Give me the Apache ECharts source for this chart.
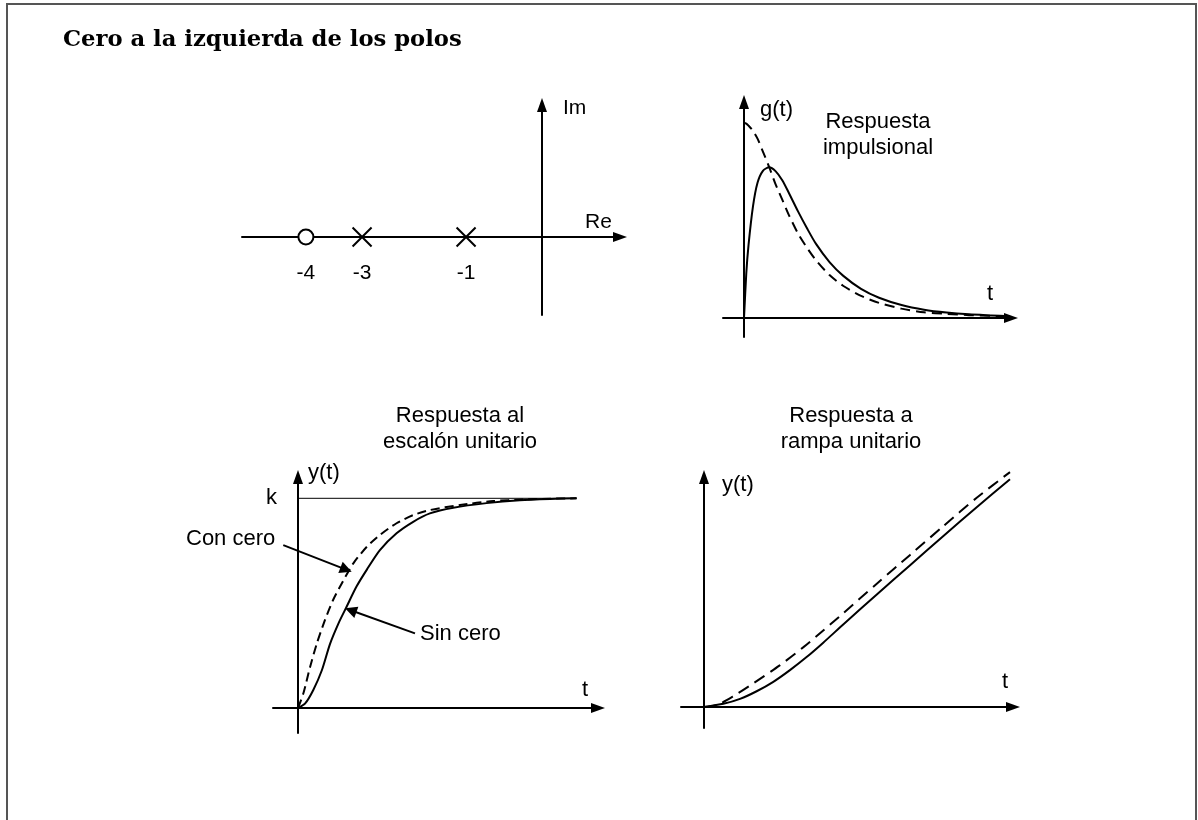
<!DOCTYPE html>
<html>
<head>
    <meta charset="UTF-8">
    <title>Cero a la izquierda de los polos</title>
    <script src="https://cdn.jsdelivr.net/npm/echarts@6/dist/echarts.min.js"></script>
    <style>
        html, body { margin: 0; padding: 0; background: #fff; }
        #chart { width: 1198px; height: 820px; }
    </style>
</head>
<body>
<div id="chart"></div>
<script>
    // plano s (posiciones del dibujo, no a escala) y sus etiquetas
    var zeroRe = [-4.54];
    var zeroLabels = ['-4'];
    var poleRe = [-3.46, -1.46];
    var poleLabels = ['-3', '-1'];

    // respuesta impulsional
    var impT = [0, 0.05, 0.1, 0.2, 0.3, 0.42, 0.56, 0.7, 0.85, 1.0, 1.2, 1.4, 1.6, 1.9, 2.2, 2.6, 3.0, 3.5, 4.0, 4.5, 5.0, 5.5, 5.9];
    var impSinCero = [0, 0.17, 0.28, 0.43, 0.52, 0.566, 0.58, 0.565, 0.53, 0.48, 0.41, 0.345, 0.285, 0.215, 0.163, 0.112, 0.078, 0.05, 0.032, 0.021, 0.014, 0.01, 0.007];
    var impConCero = [0.75, 0.748, 0.74, 0.72, 0.69, 0.64, 0.58, 0.515, 0.455, 0.395, 0.325, 0.27, 0.222, 0.165, 0.124, 0.085, 0.058, 0.036, 0.022, 0.016, 0.011, 0.008, 0.006];

    // respuesta al escalon
    var stepT = [0, 0.16, 0.34, 0.53, 0.71, 0.9, 1.08, 1.3, 1.53, 1.82, 2.19, 2.56, 2.93, 3.45, 4.19, 4.93, 5.6, 6.19];
    var stepSinCero = [0, 0.022, 0.086, 0.18, 0.305, 0.404, 0.483, 0.579, 0.66, 0.753, 0.833, 0.888, 0.928, 0.955, 0.977, 0.991, 0.997, 1.0];
    var stepTz = [0, 0.12, 0.27, 0.42, 0.6, 0.78, 1.0, 1.23, 1.53, 1.82, 2.19, 2.56, 2.93, 3.6, 4.34, 5.0, 5.6, 6.19];
    var stepConCero = [0, 0.07, 0.197, 0.309, 0.42, 0.515, 0.605, 0.69, 0.769, 0.825, 0.881, 0.92, 0.944, 0.968, 0.987, 0.994, 0.998, 1.0];
    var kT = [0, 6.19];
    var kY = [1, 1];

    // respuesta a rampa
    var rampT = [0, 0.43, 0.8, 1.17, 1.54, 1.91, 2.28, 2.65, 3.1, 3.84, 4.58, 5.32, 6.06, 6.8];
    var rampSinCero = [0, 0.07, 0.18, 0.35, 0.56, 0.82, 1.11, 1.43, 1.84, 2.5, 3.15, 3.8, 4.44, 5.06];
    var rampTz = [0, 0.3, 0.65, 1.1, 1.69, 2.21, 2.65, 3.1, 3.84, 4.58, 5.32, 6.06, 6.8];
    var rampConCero = [0, 0.05, 0.24, 0.53, 0.93, 1.33, 1.7, 2.09, 2.74, 3.38, 4.02, 4.65, 5.22];

    function pairs(xs, ys) {
        return xs.map(function (x, i) { return [x, ys[i]]; });
    }

    function axis(grid, min, max) {
        return {
            type: 'value', gridIndex: grid, min: min, max: max,
            axisLine: {
                onZero: true,
                symbol: ['none', 'triangle'],
                symbolSize: [10, 14],
                lineStyle: { color: '#000', width: 2 }
            },
            axisTick: { show: false },
            axisLabel: { show: false },
            splitLine: { show: false }
        };
    }

    function curve(grid, data, dashed) {
        return {
            type: 'line', xAxisIndex: grid, yAxisIndex: grid,
            data: data, symbol: 'none', smooth: 0.25, clip: false,
            lineStyle: { color: '#000', width: 2, type: dashed || 'solid' },
            silent: true
        };
    }

    var sans = '"Liberation Sans", Arial, sans-serif';
    function txt(x, y, s, size, align) {
        return {
            type: 'text', x: x, y: y, silent: true,
            style: {
                text: s, fill: '#000',
                font: (size || 22) + 'px ' + sans,
                align: align || 'left', verticalAlign: 'middle',
                textAlign: align || 'left', textVerticalAlign: 'middle'
            }
        };
    }

    var labelStyle = {
        show: true, position: 'inside', offset: [0, 36], formatter: '{b}',
        color: '#000', opacity: 1, fontSize: 21, fontFamily: sans
    };

    var chart = echarts.init(document.getElementById('chart'), null, { renderer: 'canvas' });

    var option = {
        animation: false,
        backgroundColor: '#fff',
        grid: [
            { left: 242, top: 105, width: 378, height: 210 },
            { left: 723, top: 102, width: 288, height: 235 },
            { left: 273, top: 477, width: 325, height: 256 },
            { left: 681, top: 477, width: 332, height: 251 }
        ],
        xAxis: [
            axis(0, -5.769, 1.5),
            axis(1, -0.467, 5.933),
            axis(2, -0.5556, 6.6667),
            axis(3, -0.5111, 6.8667)
        ],
        yAxis: [
            axis(0, -1.5, 2.538),
            axis(1, -0.0731, 0.8308),
            axis(2, -0.1192, 1.1016),
            axis(3, -0.4667, 5.1111)
        ],
        series: [
            {
                type: 'scatter', xAxisIndex: 0, yAxisIndex: 0,
                symbol: 'emptyCircle', symbolSize: 15,
                itemStyle: { color: '#000', borderColor: '#000', borderWidth: 2, opacity: 1 },
                label: labelStyle,
                data: zeroRe.map(function (v, i) { return { name: zeroLabels[i], value: [v, 0] }; }),
                z: 5, silent: true
            },
            {
                type: 'scatter', xAxisIndex: 0, yAxisIndex: 0,
                symbol: 'path://M0,0L10,10M10,0L0,10', symbolSize: 19,
                itemStyle: { color: 'rgba(0,0,0,0)', borderColor: '#000', borderWidth: 2, opacity: 1 },
                label: labelStyle,
                data: poleRe.map(function (v, i) { return { name: poleLabels[i], value: [v, 0] }; }),
                z: 5, silent: true
            },
            curve(1, pairs(impT, impSinCero)),
            curve(1, pairs(impT, impConCero), [10, 6]),
            {
                type: 'line', xAxisIndex: 2, yAxisIndex: 2, data: pairs(kT, kY),
                symbol: 'none', lineStyle: { color: '#000', width: 1 }, silent: true
            },
            curve(2, pairs(stepT, stepSinCero)),
            curve(2, pairs(stepTz, stepConCero), [9, 5]),
            {
                type: 'lines', coordinateSystem: 'cartesian2d', xAxisIndex: 2, yAxisIndex: 2,
                symbol: ['none', 'triangle'], symbolSize: 12,
                lineStyle: { color: '#000', width: 2, opacity: 1 },
                data: [
                    { coords: [[-0.327, 0.777], [1.069, 0.660]] },
                    { coords: [[2.6, 0.356], [1.171, 0.466]] }
                ],
                silent: true
            },
            curve(3, pairs(rampT, rampSinCero)),
            curve(3, pairs(rampTz, rampConCero), [12, 7])
        ],
        graphic: [
            {
                type: 'rect', silent: true,
                shape: { x: 7, y: 4, width: 1189, height: 900 },
                style: { fill: 'none', stroke: '#555', lineWidth: 2 }
            },
            {
                type: 'text', x: 63, y: 40, silent: true,
                style: {
                    text: 'Cero a la izquierda de los polos', fill: '#000',
                    font: 'bold 22.7px "DejaVu Serif", serif',
                    align: 'left', verticalAlign: 'middle',
                    textAlign: 'left', textVerticalAlign: 'middle'
                }
            },
            txt(563, 108, 'Im', 21),
            txt(585, 222, 'Re', 21),
            txt(760, 110, 'g(t)'),
            txt(878, 122, 'Respuesta', 22, 'center'),
            txt(878, 148, 'impulsional', 22, 'center'),
            txt(987, 294, 't'),
            txt(460, 416, 'Respuesta al', 22, 'center'),
            txt(460, 442, 'escalón unitario', 22, 'center'),
            txt(308, 473, 'y(t)'),
            txt(266, 498, 'k'),
            txt(186, 539, 'Con cero'),
            txt(420, 634, 'Sin cero'),
            txt(582, 690, 't'),
            txt(851, 416, 'Respuesta a', 22, 'center'),
            txt(851, 442, 'rampa unitario', 22, 'center'),
            txt(722, 485, 'y(t)'),
            txt(1002, 682, 't')
        ]
    };

    chart.setOption(option);
</script>
</body>
</html>
